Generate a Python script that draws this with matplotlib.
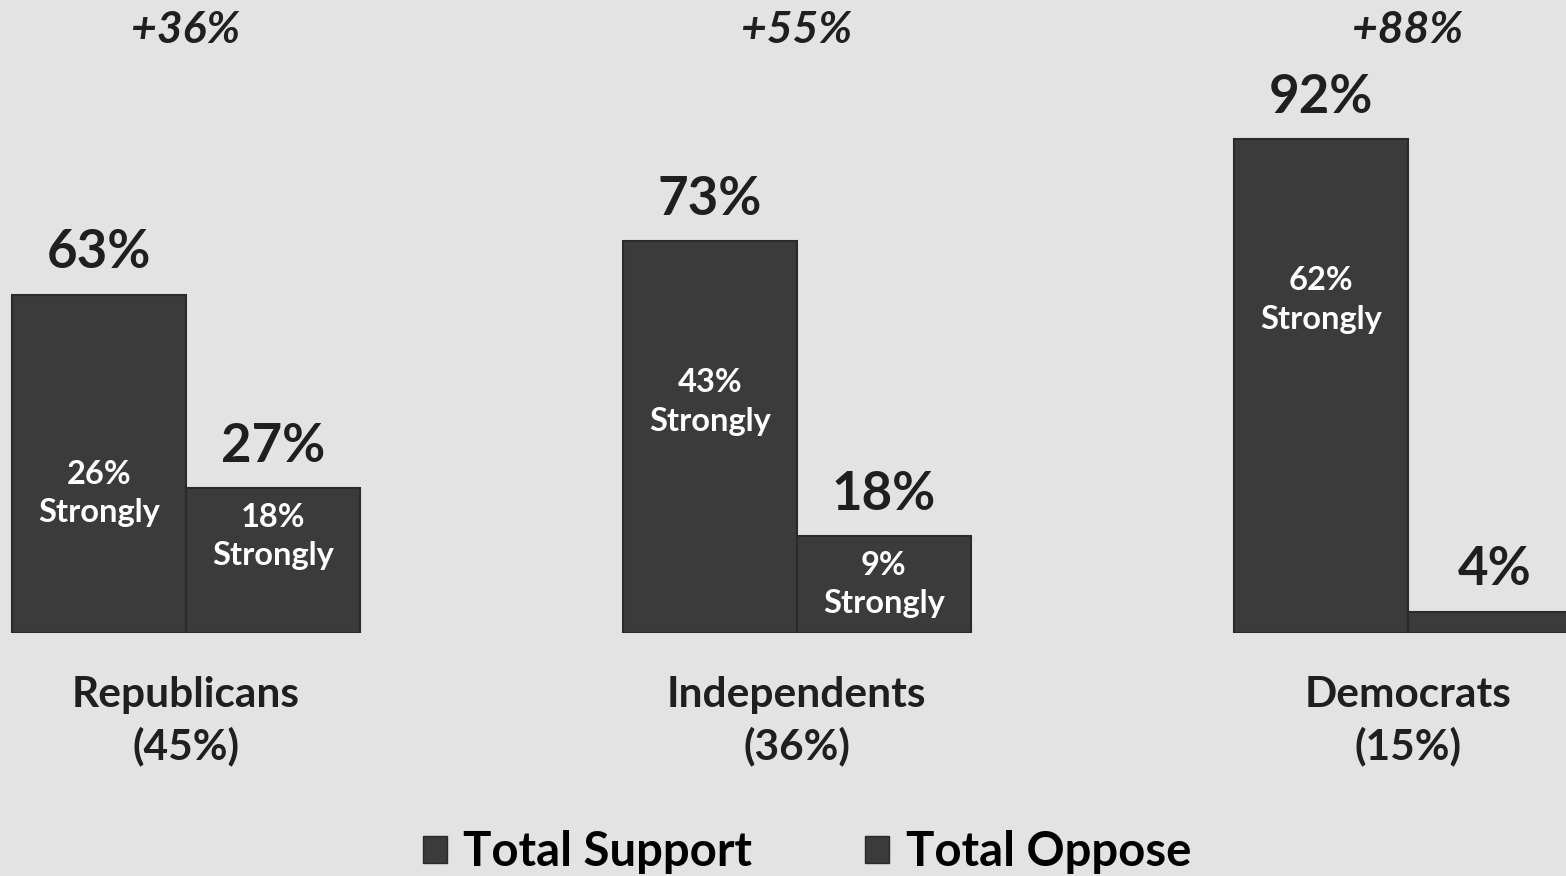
import matplotlib
matplotlib.use("Agg")
import matplotlib.pyplot as plt
from matplotlib.patches import Patch

groups = ["Republicans\n(45%)", "Independents\n(36%)", "Democrats\n(15%)"]
total_support = [63, 73, 92]
total_oppose = [27, 18, 4]
strong_support = [26, 43, 62]
strong_oppose = [18, 9, None]
net_labels = ["+36%", "+55%", "+88%"]
series_names = ["Total Support", "Total Oppose"]

BG = "#e3e3e3"
BAR = "#3b3b3b"
EDGE = "#2a2a2a"
TXT = "#1f1f1f"
FONT = "Lato"

fig = plt.figure(figsize=(15.66, 8.76), dpi=100, facecolor=BG)
ax = fig.add_axes([0, 1 - 633 / 876, 1, 633 / 876])
ax.set_facecolor(BG)
ax.set_xlim(-0.304, 2.259)
ax.set_ylim(0, 633 / 5.37)
ax.axis("off")

w = 0.285
xs = range(len(groups))
for i in xs:
    xsup = i - w / 2
    xopp = i + w / 2
    ax.bar(xsup, total_support[i], width=w, color=BAR, edgecolor=EDGE, linewidth=1.5)
    ax.bar(xopp, total_oppose[i], width=w, color=BAR, edgecolor=EDGE, linewidth=1.5)
    ax.annotate(f"{total_support[i]}%", (xsup, total_support[i]), xytext=(0, 19),
                textcoords="offset points", ha="center", va="baseline",
                fontsize=38, fontweight="bold", color=TXT, family=FONT)
    ax.annotate(f"{total_oppose[i]}%", (xopp, total_oppose[i]), xytext=(0, 19),
                textcoords="offset points", ha="center", va="baseline",
                fontsize=38, fontweight="bold", color=TXT, family=FONT)
    ax.text(xsup, strong_support[i], f"{strong_support[i]}%\nStrongly", ha="center",
            va="center", fontsize=23.5, fontweight="bold", color="white", family=FONT,
            linespacing=1.4)
    if strong_oppose[i] is not None:
        ax.text(xopp, strong_oppose[i], f"{strong_oppose[i]}%\nStrongly", ha="center",
                va="center", fontsize=23.5, fontweight="bold", color="white", family=FONT,
                linespacing=1.4)
    ax.text(i, 1 - 30 / 633, net_labels[i], transform=ax.get_xaxis_transform(),
            ha="center", va="center", fontsize=32, fontweight="bold", style="italic",
            color=TXT, family=FONT)
    ax.text(i, -(721 - 633) / 633, groups[i], transform=ax.get_xaxis_transform(),
            ha="center", va="center", fontsize=30.5, fontweight="bold", color=TXT,
            family=FONT, linespacing=1.4, clip_on=False)

handles = [Patch(facecolor=BAR, edgecolor=EDGE), Patch(facecolor=BAR, edgecolor=EDGE)]
fig.legend(handles, series_names, loc="center", bbox_to_anchor=(807 / 1566, 1 - 852 / 876),
           ncol=2, frameon=False, handlelength=0.5, handleheight=0.5, handletextpad=0.35,
           columnspacing=2.4, prop={"family": FONT, "weight": "bold", "size": 34})

fig.savefig("out.png", dpi=100, facecolor=BG)
